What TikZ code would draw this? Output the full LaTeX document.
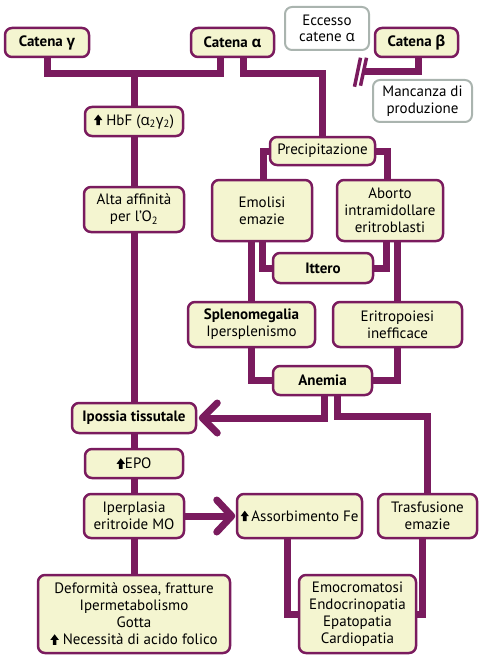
\documentclass[tikz,border=0pt]{standalone}
\usepackage{fontspec}
\setmainfont{PT Sans}
\newfontfamily\greekf{Open Sans}
\usetikzlibrary{backgrounds}
\definecolor{purp}{RGB}{122,27,94}
\definecolor{cream}{RGB}{244,245,208}
\definecolor{greyb}{RGB}{170,180,175}
\newcommand\upar{\tikz[baseline=0pt,x=1pt,y=1pt,sharp corners]\fill[black] (-1.8,0) -- (1.8,0) -- (1.8,5) -- (4.2,5) -- (0,10.5) -- (-4.2,5) -- (-1.8,5) -- cycle;}
\newcommand\myal{{\greekf α}}
\newcommand\mybe{{\greekf β}}
\newcommand\myga{{\greekf γ}}
\begin{document}
\begin{tikzpicture}[x=1pt,y=-1pt,
  box/.style 2 args={draw=purp,line width=2.5pt,fill=cream,rounded corners=7pt,
    minimum width=#1,minimum height=#2,inner sep=0pt,align=center,
    font=\fontsize{15}{17}\selectfont},
  gbox/.style 2 args={draw=greyb,line width=2pt,fill=white,rounded corners=7pt,
    minimum width=#1,minimum height=#2,inner sep=0pt,align=center,
    font=\fontsize{15}{16.5}\selectfont},
  conn/.style={draw=purp,line width=7pt},
  tip/.style={draw=purp,line width=7pt,line cap=round,line join=round},
  slash/.style={draw=purp,line width=3.5pt}]
\useasboundingbox (0,0) rectangle (487,658);
% nodes
\node[box={84pt}{29pt}] (gam) at (47,42.5) {\textbf{Catena \myga}};
\node[box={83pt}{29pt}] (alf) at (232.5,42.5) {\textbf{Catena \myal}};
\node[gbox={84pt}{43pt}] (ecc) at (327,28.5) {Eccesso\\catene \myal};
\node[box={83pt}{29pt}] (bet) at (416.5,42.5) {\textbf{Catena \mybe}};
\node[gbox={99pt}{42pt}] (man) at (422.5,101) {Mancanza di\\produzione};
\node[box={98pt}{29pt}] (hbf) at (134,121.5) {\upar\ HbF ({\greekf α}\textsubscript{2}{\greekf γ}\textsubscript{2})};
\node[box={100pt}{45pt}] (alta) at (134,209.5) {Alta affinità\\per l'O\textsubscript{2}};
\node[box={105pt}{28pt}] (prec) at (322.5,151) {Precipitazione};
\node[box={100pt}{61pt}] (emo) at (262,210.5) {Emolisi\\emazie};
\node[box={106pt}{61pt}] (abo) at (390,210.5) {Aborto\\intramidollare\\eritroblasti};
\node[box={100pt}{30pt}] (itt) at (323,268) {\textbf{Ittero}};
\node[box={127pt}{45pt}] (spl) at (251.5,324.5) {\textbf{Splenomegalia}\\Ipersplenismo};
\node[box={129pt}{45pt}] (eri) at (397.5,324.5) {Eritropoiesi\\inefficace};
\node[box={99pt}{29pt}] (ane) at (322.5,380.5) {\textbf{Anemia}};
\node[box={124pt}{30pt}] (ipo) at (134,418) {\textbf{Ipossia tissutale}};
\node[box={98pt}{29pt}] (epo) at (134,463.5) {\upar EPO};
\node[box={100pt}{44pt}] (ipe) at (134,516) {Iperplasia\\eritroide MO};
\node[box={125pt}{44pt}] (ass) at (299.5,516) {\upar\,Assorbimento Fe};
\node[box={99pt}{44pt}] (tra) at (427.5,516) {Trasfusione\\emazie};
\node[box={192pt}{78pt}] (def) at (134,614) {Deformità ossea, fratture\\Ipermetabolismo\\Gotta\\\upar\ Necessità di acido folico};
\node[box={117pt}{78pt}] (emc) at (357.5,614) {Emocromatosi\\Endocrinopatia\\Epatopatia\\Cardiopatia};
% connectors
\begin{scope}[on background layer]
  \draw[conn] (gam.south) -- ++(0,15) -| ([xshift=-12.5pt]alf.south);
  \draw[conn] (hbf.north) -- ++(0,-35);
  \draw[conn] ([xshift=10.5pt]alf.south) -- ++(0,15) -| (prec.north);
  \draw[conn] ([xshift=2pt]bet.south) -- ++(0,13.5) -- ++(-56,0) coordinate (bend);
  \draw[conn] (hbf) -- (alta);
  \draw[conn] (alta) -- (ipo);
  \draw[conn] (ipo) -- (epo);
  \draw[conn] (epo) -- (ipe);
  \draw[conn] (ipe) -- (def);
  \draw[conn] (prec.west) -| ([xshift=1pt]emo.north);
  \draw[conn] (prec.east) -| ([xshift=-3pt]abo.north);
  \draw[conn] (emo.south) |- (itt.west);
  \draw[conn] (spl.north) -- (spl.north |- emo.south);
  \draw[conn] ([xshift=-3.5pt]abo.south) |- (itt.east);
  \draw[conn] (eri.north) -- (eri.north |- abo.south);
  \draw[conn] (spl.south) |- (ane.west);
  \draw[conn] (eri.south) |- (ane.east);
  \draw[conn] ([xshift=2pt]ane.south) |- ([xshift=5pt]ipo.east);
  \draw[conn] ([xshift=14.5pt]ane.south) -- ++(0,20) -| (tra.north);
  \draw[conn] (ipe.east) -- ([xshift=-4pt]ass.west);
  \draw[conn] ([xshift=-12.5pt]ass.south) |- (emc.west);
  \draw[conn] ([xshift=-5pt]tra.south) |- (emc.east);
\end{scope}
% arrow tips
\draw[tip] ([xshift=20pt,yshift=15pt]ipo.east) -- ([xshift=5pt]ipo.east) -- ([xshift=20pt,yshift=-15pt]ipo.east);
\draw[tip] ([xshift=-19pt,yshift=16pt]ass.west) -- ([xshift=-4pt]ass.west) -- ([xshift=-19pt,yshift=-16pt]ass.west);
% break mark on beta line
\draw[slash] ([xshift=-8pt,yshift=-15pt]bend) -- ([xshift=-2pt,yshift=14pt]bend);
\draw[slash] ([xshift=-2pt,yshift=-14pt]bend) -- ([xshift=4pt,yshift=14pt]bend);
\end{tikzpicture}
\end{document}
